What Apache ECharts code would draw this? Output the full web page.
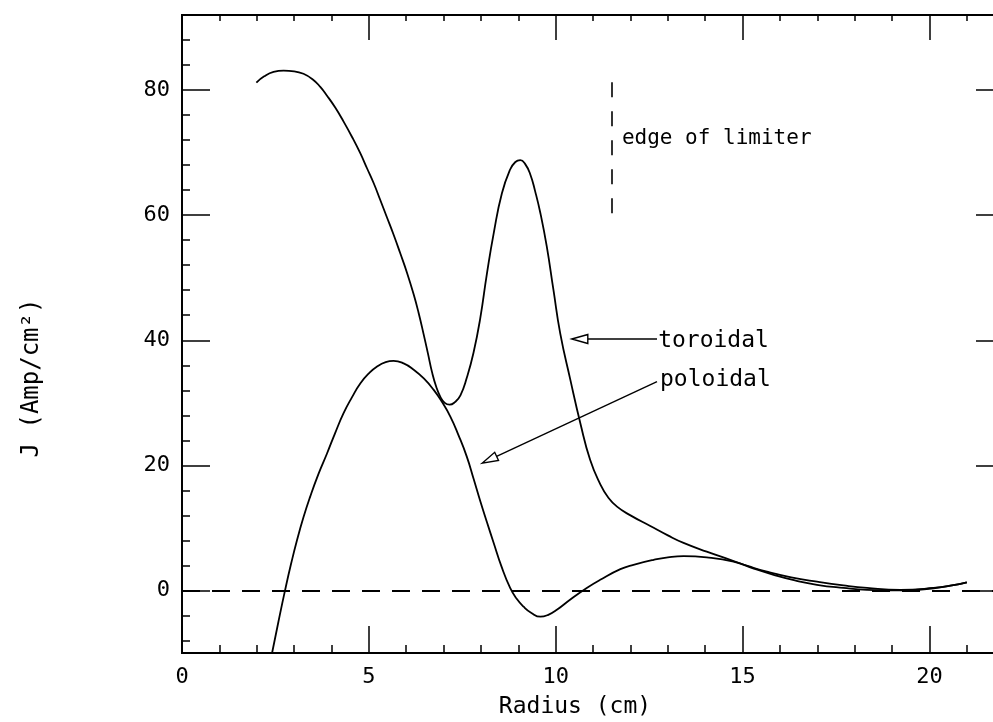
<!DOCTYPE html>
<html>
<head>
<meta charset="utf-8">
<script src="https://cdn.jsdelivr.net/npm/echarts@6/dist/echarts.min.js"></script>
<style>html,body{margin:0;padding:0;background:#fff}#c{width:993px;height:722px}</style>
</head>
<body>
<div id="c"></div>
<script>
// ---- data ----
const toroidalR = [1.99,2.2,2.45,2.72,3.0,3.25,3.5,3.7,3.88,4.1,4.32,4.55,4.77,4.95,5.13,5.3,5.48,5.66,5.84,6.02,6.20,6.33,6.46,6.58,6.69,6.80,6.91,7.03,7.16,7.30,7.45,7.62,7.80,7.98,8.16,8.34,8.56,8.78,8.92,9.05,9.18,9.32,9.45,9.59,9.76,9.94,10.12,10.39,10.66,10.92,11.19,11.40,11.64,12.0,12.53,13.0,13.42,14.04,14.67,15.2,15.65,16.3,16.99,17.7,18.33,19.22,20.11,20.6,21.0];
const toroidalJ = [81.2,82.2,82.9,83.1,83.0,82.6,81.7,80.5,79.1,77.2,75.0,72.5,69.9,67.5,65.1,62.5,59.7,56.9,53.9,50.8,47.3,44.4,41.1,37.9,34.9,32.6,31.0,30.0,29.7,30.1,31.2,34.0,38.0,43.5,50.7,57.1,63.5,67.3,68.5,68.8,68.2,66.5,63.8,60.3,55.0,48.0,41.1,33.7,26.7,20.9,17.0,14.9,13.4,12.0,10.3,8.8,7.6,6.2,4.9,3.8,3.0,2.1,1.4,0.8,0.4,0.1,0.4,0.8,1.3];
const poloidalR = [2.41,2.58,2.76,2.92,3.08,3.25,3.43,3.65,3.88,4.1,4.32,4.55,4.77,5.0,5.22,5.45,5.66,5.93,6.20,6.47,6.73,6.95,7.18,7.40,7.62,7.80,7.98,8.16,8.34,8.55,8.78,8.95,9.14,9.35,9.59,9.80,10.03,10.40,10.83,11.19,11.73,12.08,12.62,13.0,13.42,14.04,14.76,15.3,15.83,16.4,16.99,17.7,18.33,19.22,20.11,20.6,21.0];
const poloidalJ = [-10,-5,0.1,4.3,8.1,11.7,15.0,18.6,21.9,25.2,28.3,30.9,33.1,34.7,35.8,36.5,36.7,36.3,35.3,33.9,32.1,30.2,27.8,24.8,21.4,17.9,14.3,10.9,7.6,3.8,0.4,-1.3,-2.6,-3.6,-4.2,-3.9,-3.1,-1.4,0.4,1.7,3.4,4.1,4.9,5.3,5.5,5.3,4.6,3.5,2.5,1.6,0.9,0.4,0.1,0.0,0.35,0.8,1.3];
const xMajorTicks = [0,5,10,15,20];
const xMinorTicks = [1,2,3,4,6,7,8,9,11,12,13,14,16,17,18,19,21];
const yMajorTicks = [0,20,40,60,80];
const yMinorTicks = [-8,-4,4,8,12,16,24,28,32,36,44,48,52,56,64,68,72,76,84,88];
const limiterR = 11.5, limiterJ = [60.3, 82.2];
const arrowFrom = [[12.71,40.2],[12.71,33.4]];
const arrowTo   = [[10.43,40.2],[8.03,20.35]];
const noteText = ['toroidal','poloidal','edge of limiter'];
const notePos  = [[12.74,39.9],[12.79,33.6],[11.77,72.3]];
const noteSize = [23,23,21];

const FONT = 'DejaVu Sans Mono';
const zip = (a,b) => a.map((v,i)=>[v,b[i]]);

const chart = echarts.init(document.getElementById('c'), null, {renderer:'canvas'});
const axisLine = {show:true, onZero:false, lineStyle:{color:'#000', width:1.8}};
const tickStyle = {color:'#000', width:1.5};
const xBase = {type:'value', min:0, max:21.7, interval:5, splitLine:{show:false}, axisLine};
const yBase = {type:'value', min:-10, max:92, splitLine:{show:false}, axisLine};
const xAx = (pos, ticks, len, label) => Object.assign({}, xBase, {position:pos,
  axisTick:{inside:true, length:len, customValues:ticks, lineStyle:tickStyle},
  axisLabel: label ? {margin:13, color:'#000', fontFamily:FONT, fontSize:22, customValues:ticks} : {show:false}});
const yAx = (pos, ticks, len, label, line) => Object.assign({}, yBase, {position:pos,
  axisLine: line ? axisLine : {show:false, onZero:false},
  axisTick:{show:true, inside:true, length:len, customValues:ticks, lineStyle:tickStyle},
  axisLabel: label ? {margin:12, color:'#000', fontFamily:FONT, fontSize:22, customValues:ticks} : {show:false}});

chart.setOption({
  animation:false,
  backgroundColor:'#fff',
  grid:{left:182, right:0, top:15, bottom:69, containLabel:false},
  xAxis:[
    xAx('bottom', xMajorTicks, 27, true),
    xAx('bottom', xMinorTicks, 8, false),
    xAx('top', xMajorTicks, 25, false),
    xAx('top', xMinorTicks, 6, false)
  ],
  yAxis:[
    yAx('left', yMajorTicks, 28, true, true),
    yAx('left', yMinorTicks, 8, false, true),
    yAx('right', yMajorTicks, 17, false, false)
  ],
  graphic:[
    {type:'text', x:32, y:378, rotation:Math.PI/2,
     style:{text:'J (Amp/cm²)', fontFamily:FONT, fontSize:24, fill:'#000', align:'center', verticalAlign:'middle'}},
    {type:'text', x:575, y:707,
     style:{text:'Radius (cm)', fontFamily:FONT, fontSize:23, fill:'#000', align:'center', verticalAlign:'middle'}}
  ],
  series:[
    {name:'toroidal', type:'line', data:zip(toroidalR, toroidalJ), showSymbol:false, smooth:0.5,
     lineStyle:{color:'#000', width:1.8},
     markLine:{silent:true, symbol:['none','none'], label:{show:false},
       lineStyle:{color:'#000', type:[18,12], width:1.8},
       data:[{yAxis:0}]}},
    {name:'poloidal', type:'line', data:zip(poloidalR, poloidalJ), showSymbol:false, smooth:0.5,
     lineStyle:{color:'#000', width:1.8},
     markLine:{silent:true, symbol:['none','none'], label:{show:false},
       lineStyle:{color:'#000', type:[15,14], width:1.6},
       data:[[{coord:[limiterR, limiterJ[0]]},{coord:[limiterR, limiterJ[1]]}]]}},
    {name:'arrows', type:'custom', silent:true, encode:{x:[0,2], y:[1,3]},
     data: arrowFrom.map((f,i)=>[f[0],f[1],arrowTo[i][0],arrowTo[i][1]]),
     renderItem:function(params, api){
       const p0 = api.coord([api.value(0), api.value(1)]);
       const p1 = api.coord([api.value(2), api.value(3)]);
       const dx = p1[0]-p0[0], dy = p1[1]-p0[1];
       const L = Math.sqrt(dx*dx+dy*dy), ux = dx/L, uy = dy/L;
       const hl = 16, hw = 4.5;
       const bx = p1[0]-ux*hl, by = p1[1]-uy*hl;
       return {type:'group', children:[
         {type:'line', shape:{x1:p0[0], y1:p0[1], x2:bx, y2:by}, style:{stroke:'#000', lineWidth:1.4}},
         {type:'polygon', shape:{points:[[p1[0],p1[1]],[bx-uy*hw, by+ux*hw],[bx+uy*hw, by-ux*hw]]},
          style:{fill:'#fff', stroke:'#000', lineWidth:1.4}}
       ]};
     }},
    {name:'notes', type:'custom', silent:true, encode:{x:0, y:1},
     data: notePos.map((p,i)=>[p[0],p[1],i]),
     renderItem:function(params, api){
       const p = api.coord([api.value(0), api.value(1)]);
       const i = api.value(2);
       return {type:'text', x:p[0], y:p[1],
         style:{text:noteText[i], fontFamily:FONT, fontSize:noteSize[i], fill:'#000', align:'left', verticalAlign:'middle'}};
     }}
  ]
});
</script>
</body>
</html>
